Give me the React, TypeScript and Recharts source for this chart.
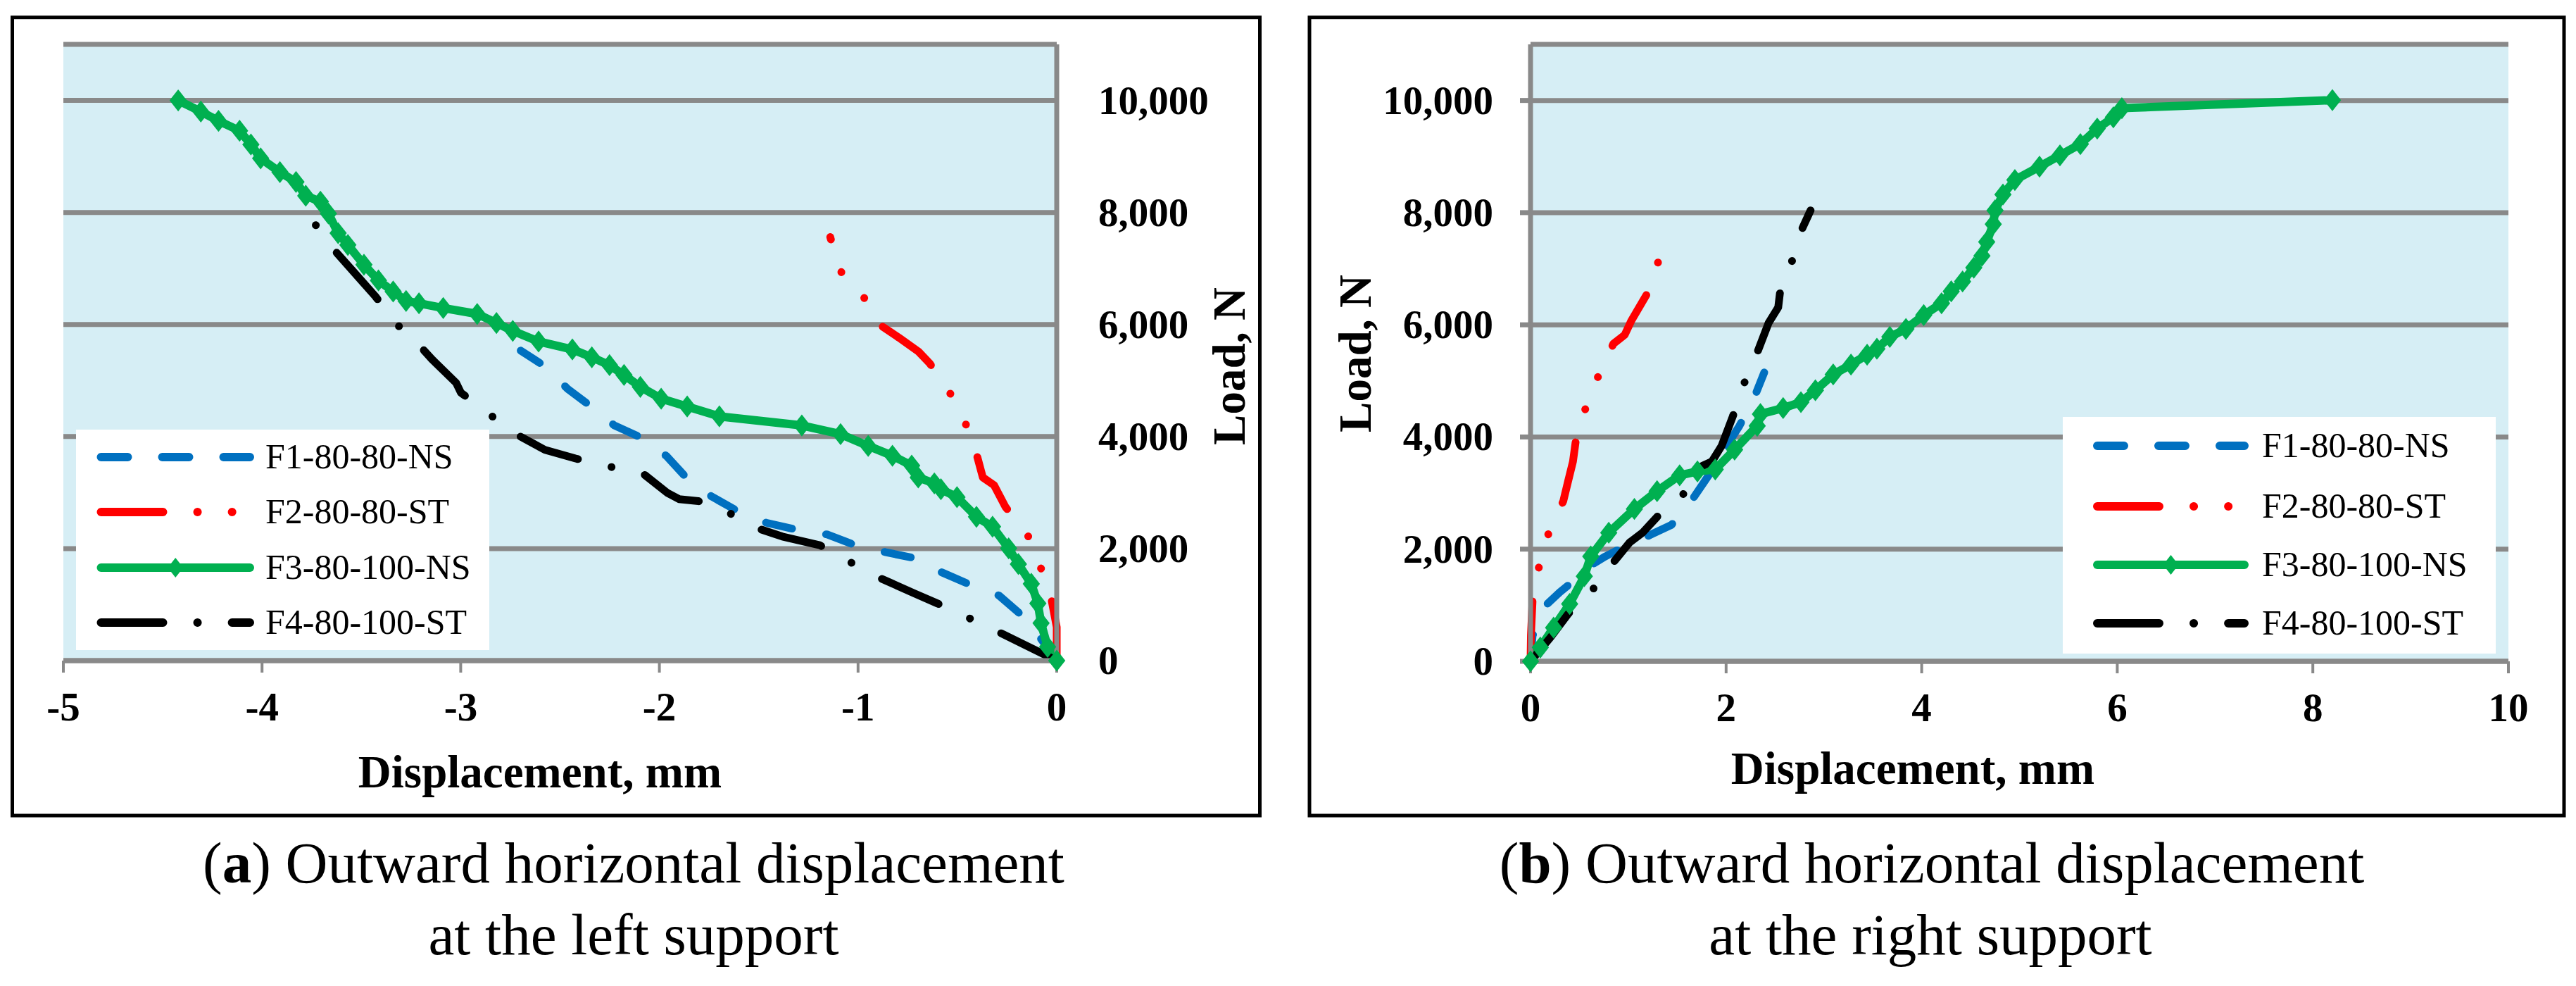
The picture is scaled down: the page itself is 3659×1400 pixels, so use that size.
import React from 'react';
import { LineChart, Line, XAxis, YAxis, CartesianGrid } from 'recharts';

// ---------- data (displacement mm, load N) ----------
const SERIES_NAMES = ['F1-80-80-NS', 'F2-80-80-ST', 'F3-80-100-NS', 'F4-80-100-ST'];
const LEFT_X_TICKS = [-5, -4, -3, -2, -1, 0];
const RIGHT_X_TICKS = [0, 2, 4, 6, 8, 10];
const LOAD_TICKS = [0, 2000, 4000, 6000, 8000, 10000];

const f1Left: number[][] = [
  [0, 0], [-0.079, 387], [-0.176, 809], [-0.29, 1160], [-0.437, 1357], [-0.583, 1582], [-0.713, 1828],
  [-0.86, 1934], [-1.014, 2060], [-1.153, 2250], [-1.315, 2342], [-1.462, 2461], [-1.608, 2672],
  [-1.738, 2932], [-1.869, 3284], [-1.966, 3657], [-2.096, 3987], [-2.227, 4198], [-2.357, 4571],
  [-2.462, 4852], [-2.576, 5253], [-2.698, 5534],
];
const f2Left: number[][] = [
  [0, 0], [0, 598], [-0.03, 1160], [-0.082, 1674], [-0.147, 2250], [-0.258, 2743], [-0.315, 3129],
  [-0.372, 3270], [-0.404, 3692], [-0.461, 4254], [-0.543, 4817], [-0.64, 5309], [-0.697, 5520],
  [-0.795, 5766], [-0.892, 5998], [-0.974, 6505], [-1.091, 6962], [-1.14, 7560],
];
const f3Left: number[][] = [
  [0, 0], [-0.046, 246], [-0.079, 668], [-0.095, 1020], [-0.128, 1371], [-0.193, 1723], [-0.242, 2004],
  [-0.323, 2391], [-0.404, 2567], [-0.502, 2918], [-0.583, 3059], [-0.616, 3164], [-0.697, 3270],
  [-0.73, 3481], [-0.827, 3657], [-0.949, 3832], [-1.088, 4043], [-1.283, 4198], [-1.698, 4360],
  [-1.86, 4536], [-1.991, 4676], [-2.096, 4887], [-2.178, 5098], [-2.251, 5274], [-2.34, 5415],
  [-2.438, 5555], [-2.608, 5696], [-2.738, 5886], [-2.82, 6026], [-2.917, 6188], [-3.088, 6294],
  [-3.21, 6378], [-3.275, 6420], [-3.34, 6589], [-3.414, 6786], [-3.487, 7067], [-3.568, 7419],
  [-3.617, 7630], [-3.666, 7981], [-3.706, 8192], [-3.78, 8298], [-3.829, 8544], [-3.91, 8720],
  [-4.007, 8966], [-4.056, 9212], [-4.113, 9458], [-4.219, 9634], [-4.308, 9800], [-4.422, 10000],
];
const f4Left: number[][] = [
  [0, 0], [-0.282, 492], [-0.437, 752], [-0.6, 1020], [-0.713, 1195], [-0.892, 1477], [-1.039, 1758],
  [-1.193, 2060], [-1.381, 2215], [-1.502, 2356], [-1.649, 2637], [-1.804, 2848], [-1.901, 2883],
  [-1.958, 2989], [-2.088, 3354], [-2.259, 3467], [-2.422, 3608], [-2.576, 3762], [-2.722, 4043],
  [-2.855, 4395], [-2.999, 4782], [-3.023, 4958], [-3.145, 5380], [-3.202, 5604], [-3.324, 6012],
  [-3.43, 6505], [-3.641, 7348], [-3.739, 7820],
];

const f1Right: number[][] = [
  [0, 0], [0.021, 458], [0.17, 1023], [0.3, 1234], [0.45, 1446], [0.63, 1728], [0.765, 1870],
  [0.897, 1989], [1.062, 2116], [1.227, 2257], [1.442, 2434], [1.657, 2892], [1.822, 3316],
  [1.955, 3704], [2.136, 4198], [2.285, 4691], [2.39, 5150],
];
const f2Right: number[][] = [
  [0, 0], [0.004, 458], [0.021, 1092], [0.087, 1693], [0.186, 2293], [0.335, 2857], [0.384, 3210],
  [0.434, 3563], [0.467, 3986], [0.566, 4530], [0.698, 5108], [0.847, 5661], [0.963, 5820],
  [1.029, 6067], [1.194, 6560], [1.31, 7144],
];
const f3Right: number[][] = [
  [0, 0], [0.1, 247], [0.236, 600], [0.4, 1023], [0.55, 1517], [0.616, 1870], [0.8, 2293],
  [1.062, 2716], [1.294, 3033], [1.525, 3316], [1.707, 3386], [1.889, 3421], [2.087, 3774],
  [2.318, 4198], [2.351, 4409], [2.583, 4515], [2.765, 4621], [2.913, 4832], [3.095, 5114],
  [3.277, 5291], [3.442, 5467], [3.542, 5573], [3.674, 5785], [3.839, 5926], [4.021, 6172],
  [4.203, 6384], [4.302, 6596], [4.418, 6772], [4.533, 7019], [4.616, 7230], [4.665, 7477],
  [4.732, 7794], [4.75, 8041], [4.831, 8323], [4.953, 8582], [5.205, 8820], [5.414, 9021],
  [5.623, 9222], [5.795, 9498], [5.96, 9699], [6.047, 9862], [8.2, 10005],
];
const f4Right: number[][] = [
  [0, 0], [0.203, 423], [0.385, 846], [0.632, 1270], [0.847, 1764], [1.012, 2116], [1.145, 2293],
  [1.294, 2575], [1.551, 2949], [1.723, 3457], [1.855, 3563], [1.955, 3845], [2.07, 4374],
  [2.18, 4938], [2.318, 5503], [2.434, 6031], [2.533, 6313], [2.55, 6560], [2.672, 7126],
  [2.781, 7725], [2.864, 8041],
];

// ---------- styles ----------
const FONT = '"Liberation Serif", "Times New Roman", serif';
const BG = '#D6EEF5';
const GRID = '#898989';
const LW = 11;
const STYLES = [
  { color: '#0070C0', dash: '38 49', offset: 0, width: 11, diamond: false },
  { color: '#FF0000', dash: '88 49 0.1 49 0.1 49', offset: 3, width: 11, diamond: false },
  { color: '#00B050', dash: undefined as string | undefined, offset: 0, width: 12, diamond: true },
  { color: '#000000', dash: '88 49 0.1 49', offset: 0, width: 11, diamond: false },
];

const toPts = (arr: number[][]) => arr.map(([x, y]) => ({ x, y }));
const fmt = (v: number) => v.toLocaleString('en-US');

const diamondPath = (cx: number, cy: number) =>
  `M${cx},${cy - 14} L${cx + 11},${cy} L${cx},${cy + 14} L${cx - 11},${cy} Z`;

const DiamondDot = (props: any) => {
  const { cx, cy, index } = props;
  if (cx == null || cy == null) return <g key={`e${index}`} />;
  return <path key={`d${index}`} d={diamondPath(cx, cy)} fill="#00B050" stroke="#00B050" strokeWidth={2} />;
};

const XTick = (props: any) => {
  const { x, y, payload } = props;
  return (
    <text x={x} y={y + 68} textAnchor="middle" fontFamily={FONT} fontWeight="bold" fontSize={57} fill="#000">
      {String(payload.value)}
    </text>
  );
};
const YTickRight = (props: any) => {
  const { x, y, payload } = props;
  return (
    <text x={x + 59} y={y + 19} textAnchor="start" fontFamily={FONT} fontWeight="bold" fontSize={57} fill="#000">
      {fmt(payload.value)}
    </text>
  );
};
const YTickLeft = (props: any) => {
  const { x, y, payload } = props;
  return (
    <text x={x - 38} y={y + 19} textAnchor="end" fontFamily={FONT} fontWeight="bold" fontSize={57} fill="#000">
      {fmt(payload.value)}
    </text>
  );
};

function renderLines(sets: number[][][]) {
  return sets.map((s, i) => (
    <Line
      key={SERIES_NAMES[i]}
      name={SERIES_NAMES[i]}
      data={toPts(s)}
      dataKey="y"
      type="linear"
      stroke={STYLES[i].color}
      strokeWidth={STYLES[i].width}
      strokeDasharray={STYLES[i].dash}
      strokeDashoffset={STYLES[i].offset}
      strokeLinecap="round"
      strokeLinejoin="round"
      dot={STYLES[i].diamond ? DiamondDot : false}
      activeDot={false}
      isAnimationActive={false}
    />
  ));
}

function LeftChart() {
  return (
    <LineChart width={1800} height={1160} margin={{ top: 63, left: 90, right: 99, bottom: 72 }}>
      <CartesianGrid vertical={false} fill={BG} fillOpacity={1} stroke={GRID} strokeWidth={7} />
      <XAxis
        type="number"
        dataKey="x"
        domain={[-5, 0]}
        ticks={LEFT_X_TICKS}
        height={150}
        axisLine={{ stroke: GRID, strokeWidth: 7 }}
        tickLine={{ stroke: GRID, strokeWidth: 4 }}
        tickSize={17}
        tickMargin={0}
        tick={XTick}
        interval={0}
      />
      <YAxis
        type="number"
        orientation="right"
        domain={[0, 11000]}
        ticks={LOAD_TICKS}
        width={200}
        axisLine={{ stroke: GRID, strokeWidth: 7 }}
        tickLine={false}
        tickSize={0}
        tickMargin={0}
        tick={YTickRight}
        interval={0}
      />
      {renderLines([f1Left, f2Left, f3Left, f4Left])}
    </LineChart>
  );
}

function RightChart() {
  return (
    <LineChart width={1829} height={1160} margin={{ top: 63, left: 144, right: 96, bottom: 71 }}>
      <CartesianGrid vertical={false} fill={BG} fillOpacity={1} stroke={GRID} strokeWidth={7} />
      <XAxis
        type="number"
        dataKey="x"
        domain={[0, 10]}
        ticks={RIGHT_X_TICKS}
        height={150}
        axisLine={{ stroke: GRID, strokeWidth: 7 }}
        tickLine={{ stroke: GRID, strokeWidth: 4 }}
        tickSize={17}
        tickMargin={0}
        tick={XTick}
        interval={0}
      />
      <YAxis
        type="number"
        orientation="left"
        domain={[0, 11000]}
        ticks={LOAD_TICKS}
        width={200}
        axisLine={{ stroke: GRID, strokeWidth: 7 }}
        tickLine={{ stroke: GRID, strokeWidth: 7 }}
        tickSize={15}
        tickMargin={0}
        tick={YTickLeft}
        interval={0}
      />
      {renderLines([f1Right, f2Right, f3Right, f4Right])}
    </LineChart>
  );
}

function LegendBox({ x, y, w, h, rows, sx1, sx2, tx }: { x: number; y: number; w: number; h: number; rows: number[]; sx1: number; sx2: number; tx: number }) {
  return (
    <g>
      <rect x={x} y={y} width={w} height={h} fill="#FFFFFF" />
      {SERIES_NAMES.map((n, i) => {
        const ry = rows[i];
        const st = STYLES[i];
        const mid = (sx1 + sx2) / 2;
        return (
          <g key={n}>
            <line x1={sx1} y1={ry} x2={sx2} y2={ry} stroke={st.color} strokeWidth={12} strokeLinecap="round" strokeDasharray={st.dash} />
            {st.diamond ? <path d={diamondPath(mid, ry)} fill={st.color} /> : null}
            <text x={tx} y={ry + 16} fontFamily={FONT} fontSize={50} fill="#000">{n}</text>
          </g>
        );
      })}
    </g>
  );
}

export default function App() {
  const title = { fontFamily: FONT, fontWeight: 'bold' as const, fontSize: 65, fill: '#000' };
  const cap = { fontFamily: FONT, fontSize: 83, fill: '#000' };
  return (
    <div style={{ position: 'relative', width: 3659, height: 1400, background: '#FFFFFF', overflow: 'hidden' }}>
      <style>{'body{margin:0;}'}</style>
      <div style={{ position: 'absolute', left: 0, top: 0 }}>
        <LeftChart />
      </div>
      <div style={{ position: 'absolute', left: 1830, top: 0 }}>
        <RightChart />
      </div>
      <svg width={3659} height={1400} style={{ position: 'absolute', left: 0, top: 0, pointerEvents: 'none' }}>
        <rect x={17.5} y={24.7} width={1772} height={1133.3} fill="none" stroke="#000" strokeWidth={5} />
        <rect x={1860} y={24.7} width={1782} height={1133.3} fill="none" stroke="#000" strokeWidth={5} />

        <LegendBox x={108} y={610} w={587} h={313} rows={[649, 727, 806, 884]} sx1={143.5} sx2={355} tx={377} />
        <LegendBox x={2930} y={592} w={615} h={336} rows={[633, 719, 802, 885]} sx1={2979} sx2={3188} tx={3213} />

        <text x={767} y={1118} textAnchor="middle" {...title}>Displacement, mm</text>
        <text x={2717} y={1113} textAnchor="middle" {...title}>Displacement, mm</text>
        <text transform="translate(1768,520) rotate(-90)" textAnchor="middle" {...title}>Load, N</text>
        <text transform="translate(1947,502) rotate(-90)" textAnchor="middle" {...title}>Load, N</text>

        <text x={900} y={1253} textAnchor="middle" {...cap}>(<tspan fontWeight="bold">a</tspan>) Outward horizontal displacement</text>
        <text x={900} y={1355} textAnchor="middle" {...cap}>at the left support</text>
        <text x={2744} y={1253} textAnchor="middle" {...cap}>(<tspan fontWeight="bold">b</tspan>) Outward horizontal displacement</text>
        <text x={2742} y={1355} textAnchor="middle" {...cap}>at the right support</text>
      </svg>
    </div>
  );
}
